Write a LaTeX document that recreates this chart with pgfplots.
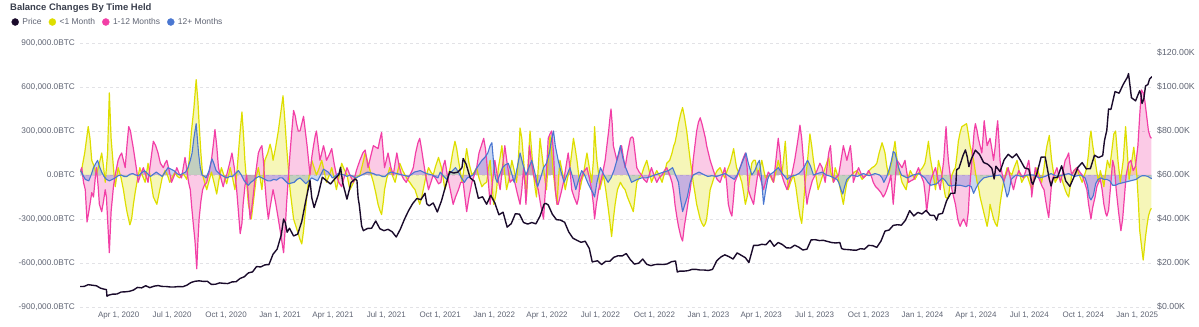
\documentclass[border=0pt]{standalone}
\usepackage{pgfplots}
\pgfplotsset{compat=1.18}
\usepackage{pgfplotstable}
\usepackage{fontspec}
\setmainfont{Liberation Sans}
\definecolor{ylw}{HTML}{DEDE00}
\definecolor{pnk}{HTML}{F23FA6}
\definecolor{blu}{HTML}{4A77D1}
\definecolor{prc}{HTML}{1A0B2B}
\definecolor{tickc}{HTML}{5F6473}
\definecolor{grd}{HTML}{E2E2E6}
\definecolor{ttl}{HTML}{3A3F4D}

% <1 Month (thousand BTC), day since 2020-01-01
\pgfplotstableread{
d v
26 20
28 40
33 150
39 330
42 250
45 100
49 60
53 0
58 80
62 150
65 60
68 -50
72 150
75 560
78 250
82 50
85 -80
88 0
90 50
95 -20
99 -100
102 -180
105 -250
110 -340
113 -300
116 -200
119 -120
122 -50
127 50
131 0
136 -50
141 80
145 -20
150 -150
156 -200
161 -100
165 -20
170 30
174 0
178 -50
183 -10
187 20
191 -10
195 -20
201 10
207 -30
211 100
215 300
219 450
223 650
226 500
228 350
231 150
234 0
238 -60
241 -100
245 -40
249 20
254 -60
258 -130
262 -30
266 50
270 0
275 -60
281 50
285 -20
289 -100
292 0
295 150
298 300
301 430
304 250
306 100
309 -50
312 -200
315 -260
317 -300
320 -200
323 -100
326 0
329 50
332 -20
335 -100
338 20
340 100
345 150
349 210
352 160
354 100
358 180
363 300
367 420
371 540
374 380
377 200
380 50
383 -100
386 -200
389 -300
393 -350
397 -400
400 -440
403 -470
406 -380
409 -250
412 -130
414 -50
417 30
420 100
424 50
428 0
432 40
437 100
441 30
445 -50
450 0
454 50
458 -20
462 -100
466 -20
471 80
475 40
480 0
485 -100
490 -60
494 -30
498 -10
502 0
507 80
511 150
516 80
520 20
525 -50
529 -120
533 -200
536 -240
539 -270
542 -180
544 -100
548 -20
553 50
557 0
562 -50
566 20
570 80
575 30
579 0
583 -30
587 -50
592 -80
596 -100
600 -150
604 -200
607 -160
610 -100
614 -20
619 50
623 20
627 0
631 60
636 120
641 50
647 -100
652 -20
656 50
660 150
664 230
667 180
670 100
673 30
676 -50
680 60
684 180
688 80
693 0
697 20
701 50
705 -20
710 -80
714 -60
718 -50
721 40
724 100
727 -50
730 -200
733 -150
735 -100
738 50
741 120
744 200
747 80
752 -100
756 -30
761 100
765 30
769 -50
772 100
775 320
778 250
781 100
784 -50
786 -150
789 100
792 300
795 150
798 0
801 -100
803 -150
806 50
809 250
812 150
815 50
818 -50
820 -100
823 100
826 270
829 150
832 0
835 -100
838 -200
841 0
843 100
848 0
852 -100
856 -20
860 50
863 150
866 250
869 180
872 100
875 0
877 -100
880 -40
883 0
886 80
889 150
893 50
897 -50
900 100
902 330
904 200
906 100
909 0
911 -100
914 -50
917 0
921 -100
926 -250
929 -350
931 -420
934 -300
937 -200
941 -100
946 -50
950 -80
954 -100
958 -150
963 -200
966 -230
968 -250
971 -150
974 -50
978 -20
982 0
986 50
991 100
995 30
999 -50
1003 -10
1008 30
1012 0
1017 -50
1021 10
1025 80
1030 100
1034 150
1037 200
1039 220
1042 280
1045 350
1049 420
1052 460
1055 400
1059 300
1062 200
1065 100
1068 20
1070 -50
1073 -120
1076 -200
1079 -250
1082 -300
1085 -330
1088 -350
1091 -330
1093 -300
1096 -200
1099 -100
1103 -50
1107 0
1111 30
1116 50
1120 10
1124 -20
1128 30
1133 80
1136 130
1139 180
1142 100
1144 50
1149 0
1153 -50
1156 -120
1159 -200
1162 -150
1164 -100
1167 0
1170 80
1173 100
1176 100
1179 30
1181 0
1184 50
1187 100
1190 40
1193 -20
1197 -10
1201 0
1204 -30
1207 -50
1211 20
1215 100
1218 50
1221 0
1224 100
1227 230
1230 50
1232 -100
1236 -50
1241 0
1245 -80
1249 -200
1252 -280
1255 -330
1258 -200
1261 -50
1265 100
1269 280
1272 200
1275 100
1279 0
1283 -100
1287 -50
1291 0
1295 50
1301 120
1304 30
1309 -50
1312 50
1316 0
1321 -100
1326 -200
1329 -120
1332 -50
1336 -20
1340 0
1345 20
1349 30
1354 0
1358 -30
1362 -10
1366 0
1370 30
1375 50
1379 60
1383 80
1387 150
1392 220
1395 180
1397 150
1400 60
1403 0
1406 50
1409 100
1412 180
1414 230
1417 120
1420 50
1423 0
1426 -50
1430 -80
1433 -100
1436 -30
1440 30
1444 0
1448 -30
1452 0
1457 30
1461 50
1465 80
1468 150
1471 230
1474 120
1477 50
1480 -20
1483 -100
1486 0
1488 100
1491 50
1494 0
1497 -80
1500 -150
1503 -160
1505 -150
1508 -60
1511 0
1514 30
1517 50
1520 150
1522 230
1525 290
1528 330
1532 340
1536 350
1539 280
1542 200
1545 150
1548 100
1551 20
1554 -50
1557 -100
1559 -150
1562 -200
1565 -250
1568 -300
1571 -350
1574 -280
1576 -200
1579 -250
1582 -300
1585 -330
1588 -350
1591 -280
1593 -200
1596 -120
1599 -50
1602 0
1605 50
1609 20
1613 0
1617 50
1622 100
1626 20
1630 -50
1634 -20
1639 0
1643 -50
1647 -100
1651 -20
1656 50
1660 0
1664 -50
1668 50
1671 150
1673 200
1677 270
1679 180
1681 100
1684 20
1687 -50
1691 -20
1696 0
1700 -50
1704 -100
1707 -130
1710 -150
1713 -70
1715 0
1719 30
1724 50
1728 0
1733 -50
1737 0
1741 50
1744 150
1746 250
1748 300
1751 200
1755 100
1758 20
1761 -50
1764 30
1767 -20
1770 -80
1773 20
1776 100
1780 50
1784 180
1787 280
1790 300
1794 100
1798 -50
1803 100
1807 330
1810 150
1813 -30
1817 80
1821 190
1824 80
1826 10
1829 -200
1831 -375
1834 -480
1837 -580
1839 -500
1841 -420
1844 -330
1846 -280
1849 -240
1851 -227
}\ylwdata

% 1-12 Months
\pgfplotstableread{
d v
26 30
28 50
31 -50
34 -100
37 -320
40 -250
42 -200
45 -120
48 -150
51 -20
53 50
56 -80
58 -200
62 -250
65 -180
68 -100
70 -150
72 -300
75 -530
78 -250
82 -80
85 0
88 60
90 100
93 130
96 150
99 100
102 50
105 200
108 330
111 300
113 250
116 180
119 100
122 20
124 -50
128 0
133 50
137 0
141 -50
145 80
150 230
154 200
158 150
162 80
167 50
170 80
173 100
177 30
181 -50
186 0
190 50
194 10
198 -20
201 50
204 120
207 40
210 -50
213 -100
215 -200
218 -330
221 -450
224 -640
226 -450
228 -300
231 -180
234 -100
237 -70
241 -50
245 20
249 100
252 200
255 310
258 200
261 50
265 -20
269 -80
272 -30
275 0
280 80
284 150
288 50
292 -100
295 -250
298 -400
301 -330
303 -200
306 -80
309 0
312 -150
315 -300
317 -250
320 -150
324 0
329 150
332 180
335 200
338 80
340 -50
343 -200
346 -300
349 -220
354 -100
358 -180
363 -300
367 -400
372 -530
375 -350
377 -200
380 -20
383 150
386 300
389 440
392 400
394 350
397 300
400 300
403 350
406 400
409 300
412 200
415 80
417 0
420 120
423 200
426 270
428 300
431 200
434 100
437 150
440 200
443 150
445 100
450 140
454 180
458 80
462 0
466 -50
471 -80
475 -20
480 50
485 0
491 -50
496 30
502 100
507 150
511 170
514 100
516 50
520 120
525 200
529 190
533 180
536 240
539 290
542 150
544 50
547 100
550 150
555 50
559 0
562 80
565 150
569 60
573 0
577 -30
581 -50
586 -10
590 20
593 50
597 150
601 220
604 250
607 180
610 100
614 0
619 -100
623 -50
627 0
632 -30
636 -60
640 -50
644 60
647 100
651 0
656 -100
661 -200
665 -150
670 -100
674 -50
678 -50
681 -150
684 -250
688 -150
693 -50
697 0
701 50
705 150
709 200
713 250
716 180
718 100
721 -50
724 -200
728 -50
732 100
736 0
741 -100
745 50
749 200
753 80
758 -50
762 -30
766 -50
770 -120
775 -200
778 -100
781 50
783 -50
785 -200
788 0
791 200
794 100
798 0
802 -50
806 -100
810 -200
815 -300
819 -50
823 250
826 280
829 300
832 150
835 -100
838 -200
840 -200
845 -120
849 -50
853 50
857 150
860 50
863 -100
867 -150
872 -200
875 -150
877 -50
883 20
889 50
893 -20
897 -100
900 -200
902 -300
905 -200
909 -100
914 -20
920 100
923 200
926 300
928 380
930 450
932 350
934 200
937 150
940 100
944 150
948 200
951 120
954 50
958 150
963 250
966 260
968 250
971 150
974 50
978 20
982 0
986 -30
991 -50
995 0
999 50
1003 0
1008 -50
1012 -20
1017 0
1021 30
1025 50
1030 0
1034 -50
1037 -120
1039 -200
1042 -280
1045 -350
1049 -420
1052 -450
1055 -350
1059 -250
1062 -170
1065 -100
1068 0
1070 100
1073 200
1076 300
1079 360
1082 390
1085 350
1088 300
1091 250
1093 200
1096 150
1099 100
1103 50
1107 0
1111 -30
1116 -50
1120 0
1124 50
1127 -50
1130 -200
1133 -250
1136 -280
1139 -150
1141 -50
1146 0
1150 50
1154 100
1159 150
1162 50
1164 -100
1168 -150
1173 -200
1177 -80
1181 30
1185 -30
1190 -100
1194 -40
1198 20
1202 0
1207 -50
1211 100
1215 250
1218 150
1221 0
1225 -50
1230 -100
1234 -50
1238 0
1243 100
1247 200
1250 280
1252 340
1255 250
1258 100
1261 -80
1264 -200
1266 -150
1269 -100
1273 -40
1278 0
1282 40
1286 80
1290 50
1295 -50
1298 50
1301 150
1304 200
1307 50
1309 -50
1313 -20
1318 0
1322 100
1326 200
1329 150
1332 100
1335 150
1338 200
1341 80
1343 -50
1347 0
1352 50
1356 10
1360 -20
1365 0
1369 30
1373 0
1377 -50
1381 -80
1386 -100
1390 -120
1394 -150
1397 -130
1400 -100
1404 -50
1407 0
1409 -100
1411 -200
1414 -50
1417 100
1421 80
1426 50
1429 80
1431 100
1434 20
1437 -50
1441 -40
1446 -30
1450 10
1454 50
1458 0
1463 -50
1466 -150
1468 -250
1471 -150
1474 -50
1478 0
1483 50
1487 -30
1491 -100
1494 0
1497 100
1499 220
1501 330
1503 200
1505 100
1508 0
1511 -100
1514 -150
1517 -200
1519 -250
1521 -300
1523 -330
1525 -350
1528 -320
1531 -300
1534 -330
1536 -350
1539 -250
1541 -100
1544 50
1547 200
1549 300
1551 350
1554 300
1556 250
1559 200
1562 150
1564 250
1566 370
1568 300
1571 200
1574 230
1576 250
1579 180
1582 100
1585 200
1587 300
1589 370
1591 250
1593 100
1596 20
1599 -50
1603 0
1607 50
1611 -30
1616 -100
1620 -30
1625 30
1629 0
1633 -20
1637 30
1642 100
1645 0
1647 -150
1650 -50
1653 50
1657 0
1662 -50
1665 -80
1668 -100
1671 -180
1674 -250
1676 -290
1679 -150
1681 -50
1685 0
1690 50
1693 0
1696 -50
1700 20
1704 100
1707 120
1710 150
1712 80
1715 0
1719 30
1724 50
1729 20
1733 0
1737 -50
1741 -100
1744 -200
1746 -250
1748 -300
1751 -220
1755 -150
1758 -80
1761 -50
1764 -30
1767 -100
1770 -200
1773 -260
1775 -280
1778 -240
1782 -50
1785 100
1788 50
1791 -100
1795 -250
1799 -380
1802 -300
1805 -150
1808 0
1812 80
1816 100
1820 30
1824 60
1828 200
1831 400
1834 580
1837 560
1840 500
1843 400
1846 300
1849 260
1851 250
}\pnkdata

% 12+ Months
\pgfplotstableread{
d v
26 30
30 0
34 -30
40 -40
44 0
48 50
52 80
55 100
58 60
62 20
66 -10
70 -30
75 -40
80 -30
85 -20
90 -5
95 0
100 -10
105 -10
110 5
115 10
120 0
125 -5
130 15
135 30
140 10
145 -10
150 5
155 20
160 5
165 -10
170 20
175 50
180 40
185 30
190 10
195 0
200 10
205 20
209 50
213 100
216 150
219 250
221 300
223 350
225 250
227 150
230 50
233 0
237 -10
240 -20
245 30
248 80
250 110
253 80
257 30
262 10
266 0
270 -10
275 -20
280 -10
285 -10
290 10
295 30
300 0
305 -40
309 -60
312 -70
316 -50
320 -40
325 -20
330 -10
335 -20
340 -30
345 -40
350 -40
355 -30
360 -35
365 -20
370 -20
375 -40
380 -60
385 -55
390 -50
395 -30
400 -20
405 -40
410 -60
415 -40
420 -20
425 -30
430 -40
435 0
440 40
444 30
448 20
452 0
455 -20
460 -10
465 10
470 5
475 0
480 -10
485 0
490 -10
495 -20
500 -10
505 0
510 10
515 20
520 15
525 10
530 0
535 0
540 -10
545 -10
550 10
555 20
560 15
565 10
570 5
575 0
580 -5
585 -10
590 5
595 20
600 25
605 30
610 20
615 10
620 5
625 0
630 -10
635 -20
639 20
645 -10
650 -30
655 10
660 30
665 50
670 20
675 -20
680 -50
685 -20
690 -10
695 0
700 40
705 70
710 100
715 120
720 150
724 200
727 220
730 80
733 -20
736 -50
740 0
745 50
750 70
755 80
760 20
765 -50
770 50
775 150
780 70
785 0
790 50
795 100
800 20
805 -80
810 -20
815 50
820 80
825 150
829 250
832 300
835 200
840 100
845 20
850 -50
855 0
860 50
865 -20
870 -100
875 -30
880 30
885 0
890 -50
896 -100
899 -120
902 -150
906 -50
912 50
918 0
925 -50
930 -20
935 30
940 100
943 150
946 200
950 120
955 50
960 0
965 -50
970 -40
975 -30
982 -20
990 -20
998 -10
1005 0
1012 10
1020 20
1028 30
1035 50
1040 0
1045 -50
1048 -150
1052 -250
1056 -200
1060 -150
1065 -50
1070 0
1075 10
1080 20
1087 5
1095 -10
1102 -5
1110 -10
1117 0
1125 10
1132 -10
1140 -30
1145 0
1150 50
1155 100
1160 150
1164 80
1170 0
1175 30
1180 80
1183 100
1186 0
1188 -100
1190 -200
1193 -120
1197 -30
1200 0
1207 20
1215 50
1222 10
1230 -30
1237 -10
1245 0
1250 10
1255 30
1260 60
1265 100
1270 60
1275 0
1282 10
1290 20
1297 0
1305 -10
1310 -20
1315 -30
1318 -50
1322 -100
1325 -130
1328 -80
1332 -30
1340 0
1350 -10
1360 10
1370 -5
1380 10
1388 0
1392 -20
1395 -50
1400 -10
1405 50
1408 100
1411 160
1414 150
1417 100
1421 40
1425 0
1435 -20
1445 0
1455 10
1465 -20
1470 -50
1475 -70
1480 -65
1485 -60
1490 -40
1495 -20
1500 -40
1505 -70
1510 -75
1515 -70
1520 -70
1525 -70
1530 -75
1535 -80
1540 -70
1544 -80
1548 -125
1552 -90
1556 -60
1560 -40
1565 -20
1575 -10
1585 -5
1593 0
1598 -30
1601 -80
1605 -150
1608 -120
1612 -30
1620 0
1630 -10
1640 0
1650 0
1660 -20
1670 -10
1680 10
1690 -10
1700 0
1710 10
1720 -10
1730 0
1738 -20
1742 -70
1745 -150
1748 -170
1752 -140
1756 -60
1760 -30
1765 -20
1770 -30
1775 -30
1780 -40
1785 -70
1790 -70
1795 -60
1800 -55
1805 -50
1810 -45
1815 -40
1820 -35
1825 -30
1830 -15
1835 -5
1840 -5
1845 -10
1849 -20
1852 -25
}\bludata

% Price (thousand USD)
\pgfplotstableread{
d p
25 9.3
32 9.35
39 10.15
46 9.9
53 9.65
60 8.55
67 8.05
70 7.9
71 4.9
74 5.4
81 5.85
88 5.9
95 6.8
102 6.9
109 7.1
116 7.7
123 8.9
130 8.7
137 9.65
144 8.8
151 9.45
158 9.75
165 9.35
172 9.3
179 9.1
186 9.1
193 9.3
200 9.2
207 9.9
214 11.1
221 11.7
228 11.9
235 11.65
242 11.7
249 10.25
256 10.35
263 10.95
270 10.75
277 10.65
284 11.4
291 11.5
298 13.0
305 13.75
312 15.5
319 15.95
326 18.4
333 18.2
340 19.15
347 19.25
354 24.0
361 26.3
368 32.8
372 40.0
375 38.3
378 34.0
382 35.8
389 32.3
396 33.1
403 38.9
410 48.6
417 57.5
420 49.7
424 45.2
431 51.0
438 59.0
445 57.4
452 55.9
459 58.2
466 60.0
469 63.5
473 56.2
480 49.0
487 56.6
494 58.2
497 57.5
499 49.7
501 46.4
505 36.8
508 34.7
515 35.7
522 35.8
529 39.1
536 35.6
543 34.7
550 35.3
557 34.2
564 31.8
571 35.4
578 39.9
585 43.8
592 47.0
599 49.3
606 48.8
613 51.7
616 46.9
620 46.0
627 47.3
634 43.2
641 48.2
648 54.9
655 61.5
662 60.9
669 61.3
676 63.3
678 67.5
683 65.0
690 58.7
697 57.2
704 49.4
711 50.1
718 46.7
725 50.8
732 47.3
739 41.9
746 43.1
753 36.3
760 37.9
767 42.4
774 42.2
781 38.4
788 37.7
795 38.4
802 37.8
809 41.3
816 46.8
819 47.1
823 46.4
830 42.2
837 39.7
844 39.5
851 38.5
858 34.1
865 31.3
872 30.3
879 29.4
886 29.9
893 26.6
898 20.5
907 21.0
914 19.3
921 20.8
928 20.8
935 22.6
942 23.3
949 23.2
956 24.3
963 21.5
970 19.5
977 19.9
984 21.8
991 19.4
998 18.8
1005 19.3
1012 19.4
1019 19.3
1026 19.6
1033 20.6
1040 20.9
1043 15.9
1047 16.3
1054 16.3
1061 16.5
1068 17.1
1075 17.1
1082 16.8
1089 16.8
1096 16.6
1103 17.1
1110 20.9
1117 22.7
1124 23.7
1131 22.9
1138 21.8
1145 24.6
1152 23.5
1159 22.4
1165 20.2
1173 28.0
1180 28.0
1187 28.5
1194 28.3
1201 30.3
1208 27.6
1215 29.3
1222 28.4
1229 26.9
1236 26.8
1243 28.1
1250 27.2
1257 25.9
1264 26.3
1271 30.5
1278 30.6
1285 30.2
1292 30.3
1299 29.8
1306 29.3
1313 29.1
1320 29.3
1323 26.6
1327 26.2
1334 26.1
1341 25.9
1348 25.8
1355 26.5
1362 26.3
1369 28.0
1376 27.9
1383 27.1
1390 29.9
1397 34.5
1404 35.0
1411 37.1
1418 37.4
1425 37.2
1432 39.5
1439 43.8
1446 41.4
1453 43.0
1460 42.3
1467 43.9
1474 41.7
1481 41.6
1485 39.5
1488 42.1
1495 42.6
1502 48.3
1509 51.7
1516 51.7
1518 57.0
1519 62.4
1523 63.1
1530 68.9
1534 71.4
1537 68.4
1540 63.8
1544 67.2
1551 71.3
1558 69.4
1565 65.7
1572 64.9
1579 63.1
1583 58.2
1586 64.0
1593 61.5
1600 66.9
1607 69.4
1614 67.8
1621 69.6
1628 66.6
1635 63.2
1642 62.7
1647 56.7
1649 55.8
1656 60.8
1663 68.1
1670 68.2
1677 58.1
1680 55.0
1684 58.7
1691 58.9
1698 64.2
1705 57.3
1712 54.8
1719 59.1
1726 63.6
1733 65.6
1740 62.8
1747 62.9
1754 69.0
1761 67.9
1768 68.8
1771 75.6
1775 80.4
1778 90.0
1782 89.8
1789 97.9
1796 97.2
1803 101.2
1810 104.4
1812 106.1
1817 95.1
1824 93.7
1831 98.3
1833 96.9
1835 92.5
1838 94.5
1841 100.5
1845 101.1
1848 103.7
1852 104.7
}\prcdata

\pgfplotsset{
  common/.style={
    at={(80bp,20bp)}, anchor=south west,
    scale only axis, width=1072bp, height=264bp,
    xmin=25, xmax=1852,
    axis line style={draw=none},
    major tick length=0pt, minor tick num=0,
    tick label style={font=\fontsize{8.3}{10}\selectfont, text=tickc},
  }
}

\begin{document}
\begin{tikzpicture}
\useasboundingbox (0,0) rectangle (1199bp,327bp);
\begin{axis}[common,
  ymin=-900, ymax=900,
  axis x line*=bottom, axis y line*=left,
  ytick={-900,-600,-300,0,300,600,900},
  yticklabels={{-900,000.0BTC},{-600,000.0BTC},{-300,000.0BTC},{0.0BTC},{300,000.0BTC},{600,000.0BTC},{900,000.0BTC}},
  yticklabel style={anchor=east, inner sep=0pt, xshift=-5bp},
  xtick={91,182,274,366,456,547,639,731,821,912,1004,1096,1186,1277,1369,1461,1552,1643,1735,1827},
  xticklabels={{Apr 1, 2020},{Jul 1, 2020},{Oct 1, 2020},{Jan 1, 2021},{Apr 1, 2021},{Jul 1, 2021},{Oct 1, 2021},{Jan 1, 2022},{Apr 1, 2022},{Jul 1, 2022},{Oct 1, 2022},{Jan 1, 2023},{Apr 1, 2023},{Jul 1, 2023},{Oct 1, 2023},{Jan 1, 2024},{Apr 1, 2024},{Jul 1, 2024},{Oct 1, 2024},{Jan 1, 2025}},
  xticklabel style={anchor=north, inner sep=0pt, text height=6.2bp, text depth=1.8bp, yshift=-4bp, font=\fontsize{8}{10}\selectfont},
  ymajorgrids, grid style={grd, line width=0.6bp, dash pattern=on 3bp off 3bp},
  legend style={draw=none, fill=none, inner sep=0pt, outer sep=0pt,
    at={(-0.0639,1.0795)}, anchor=west, legend columns=4,
    font=\fontsize{8.5}{10}\selectfont, text=tickc,
    cells={anchor=west}, nodes={inner sep=0pt},
    /tikz/every odd column/.append style={column sep=3.5bp},
    /tikz/every even column/.append style={column sep=7bp}},
]
\addlegendimage{legend image code/.code={\fill[prc] (3.5bp,0bp) circle (3.5bp);}}
\addlegendentry{Price}
\addlegendimage{legend image code/.code={\fill[ylw] (3.5bp,0bp) circle (3.5bp);}}
\addlegendentry{<1 Month}
\addlegendimage{legend image code/.code={\fill[pnk] (3.5bp,0bp) circle (3.5bp);}}
\addlegendentry{1-12 Months}
\addlegendimage{legend image code/.code={\fill[blu] (3.5bp,0bp) circle (3.5bp);}}
\addlegendentry{12+ Months}

\addplot[forget plot, draw=none, fill=ylw, fill opacity=0.28] table[x=d,y=v] {\ylwdata} \closedcycle;
\addplot[forget plot, draw=none, fill=pnk, fill opacity=0.28] table[x=d,y=v] {\pnkdata} \closedcycle;
\addplot[forget plot, draw=none, fill=blu, fill opacity=0.3] table[x=d,y=v] {\bludata} \closedcycle;
\addplot[forget plot, ylw, line width=1.2bp, line join=round] table[x=d,y=v] {\ylwdata};
\addplot[forget plot, pnk, line width=1.2bp, line join=round] table[x=d,y=v] {\pnkdata};
\addplot[forget plot, blu, line width=1.1bp, line join=round] table[x=d,y=v] {\bludata};
\end{axis}

\begin{axis}[common,
  ymin=0, ymax=120,
  axis x line=none, axis y line*=right,
  ytick={0,20,40,60,80,100},
  yticklabels={{\$0.00K},{\$20.00K},{\$40.00K},{\$60.00K},{\$80.00K},{\$100.00K}},
  extra y ticks={120}, extra y tick labels={{\$120.00K}},
  extra y tick style={yticklabel style={yshift=-10bp}},
  yticklabel style={anchor=west, inner sep=0pt, xshift=5bp, font=\fontsize{8.8}{10}\selectfont},
]
\addplot[prc, line width=1.4bp, line join=round] table[x=d,y=p] {\prcdata};
\end{axis}

\node[anchor=west, inner sep=0pt, text=ttl, font=\fontsize{9.5}{11}\selectfont\bfseries] at (10bp,318.5bp) {Balance Changes By Time Held};
\end{tikzpicture}
\end{document}
